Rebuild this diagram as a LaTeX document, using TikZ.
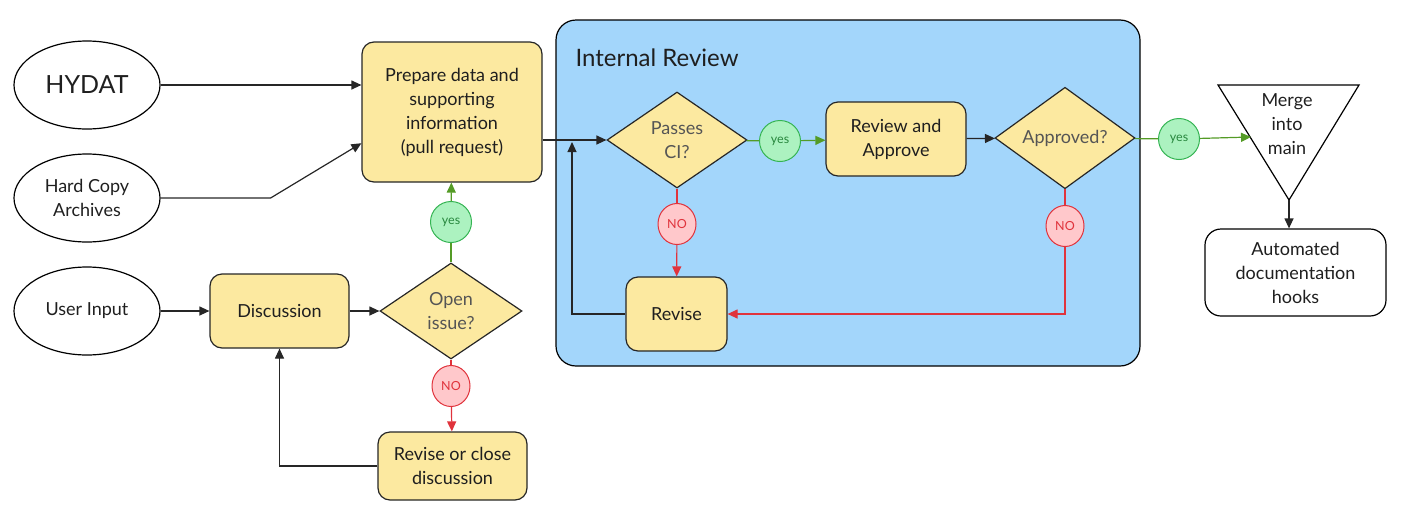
\documentclass[tikz,border=0pt]{standalone}
\usepackage{fontspec}
\setmainfont{Lato}
\usetikzlibrary{shapes.geometric,arrows.meta}

\definecolor{boxfill}{HTML}{FCE9A0}
\definecolor{reviewbg}{HTML}{A3D6FB}
\definecolor{yesfill}{HTML}{ACF2C0}
\definecolor{yesdraw}{HTML}{35B453}
\definecolor{yesline}{HTML}{549B26}
\definecolor{nofill}{HTML}{FFC8CB}
\definecolor{nodraw}{HTML}{E0333C}
\definecolor{asktext}{HTML}{555555}

\tikzset{
    every node/.style={font=\fontsize{18}{24}\selectfont, align=center, text=black!88},
    src/.style={draw, ellipse, line width=1.2, minimum width=146, minimum height=88, inner sep=0},
    proc/.style={draw=black!85, fill=boxfill, line width=1.2, rounded corners=12, inner sep=0},
    ask/.style={draw=black!85, diamond, fill=boxfill, line width=1.2, inner sep=0, text=asktext},
    yesmark/.style={circle, draw=yesdraw, fill=yesfill, line width=1, minimum size=41, inner sep=0,
        font=\fontsize{12.5}{14}\selectfont, text=yesdraw!75!black},
    nomark/.style={ellipse, draw=nodraw, fill=nofill, line width=1, minimum width=38, minimum height=41, inner sep=0,
        font=\fontsize{12.5}{14}\selectfont, text=nodraw},
    flow/.style={-{Triangle[length=10,width=9]}, line width=1.2, draw=black!85},
    okline/.style={line width=1.2, draw=yesline},
    okflow/.style={flow, draw=yesline},
    noline/.style={line width=1.2, draw=nodraw},
    noflow/.style={flow, draw=nodraw}
}

\begin{document}
\begin{tikzpicture}[x=1pt, y=-1pt]
    \useasboundingbox (0,0) rectangle (1415,517);

    \draw[fill=reviewbg, line width=1.2, rounded corners=20] (556,20) rectangle (1140,366);
    \node[anchor=west, font=\fontsize{24}{28}\selectfont] (title) at (572,58) {Internal Review};

    \node[src, font=\fontsize{25}{28}\selectfont] (hydat) at (87,85) {HYDAT};
    \node[src] (archive) at (87,198) {Hard Copy\\Archives};
    \node[src] (user) at (87,311) {User Input};

    \node[proc, minimum width=180, minimum height=140] (prep) at (452,112) {Prepare data and\\supporting\\information\\(pull request)};
    \node[proc, minimum width=139, minimum height=74] (disc) at (279.5,311) {Discussion};
    \node[ask, minimum width=142, minimum height=96] (openq) at (451,311) {Open\\issue?};
    \node[yesmark] (yes1) at (451,222) {yes};
    \node[nomark] (no1) at (451,386) {NO};
    \node[proc, minimum width=149, minimum height=68] (close) at (452.5,466) {Revise or close\\discussion};

    \node[ask, minimum width=140, minimum height=96] (passes) at (677,140) {Passes\\CI?};
    \node[yesmark] (yes2) at (780,141) {yes};
    \node[proc, minimum width=140, minimum height=74] (review) at (896,139) {Review and\\Approve};
    \node[ask, minimum width=140, minimum height=96] (approved) at (1065,138) {Approved?};
    \node[nomark] (no2) at (677,224) {NO};
    \node[nomark] (no3) at (1065,226) {NO};
    \node[proc, minimum width=101, minimum height=74] (revise) at (676.5,314) {Revise};

    \node[yesmark] (yes3) at (1179,139) {yes};
    \draw[line width=1.2, fill=white] (1218,85) -- (1359,85) -- (1289,200) coordinate (mergeapex) -- cycle;
    \node (merge) at (1287,124) {Merge\\into\\main};
    \coordinate (mergein) at (1251,137);
    \node[draw, line width=1.2, fill=white, rounded corners=16, minimum width=181, minimum height=87, inner sep=0] (auto) at (1295.5,272.5) {Automated\\documentation\\hooks};
    \coordinate (loopin) at (572,142);

    \draw[flow] (hydat.east) -- (hydat.east -| prep.west);
    \draw[flow] (archive.east) -- ++(110,0) -- (prep.199);
    \draw[flow] (user) -- (disc);
    \draw[flow] (disc) -- (openq);
    \draw[okline] (openq) -- (yes1);
    \draw[okflow] (yes1) -- (prep);
    \draw[noline] (openq) -- (no1);
    \draw[noflow] (no1) -- (close);
    \draw[flow] (close) -| (disc);

    \draw[flow] (prep.east |- passes.west) -- (passes.west);
    \draw[flow] (revise.west) -| (loopin);
    \draw[okline] (passes) -- (yes2);
    \draw[okflow] (yes2) -- (review);
    \draw[flow] (review) -- (approved);
    \draw[noline] (passes) -- (no2);
    \draw[noflow] (no2) -- (revise);
    \draw[noline] (approved) -- (no3);
    \draw[noflow] (no3) |- (revise);
    \draw[okline] (approved) -- (yes3);
    \draw[okflow] (yes3) -- (mergein);
    \draw[flow] (mergeapex) -- (mergeapex |- auto.north);
\end{tikzpicture}
\end{document}
